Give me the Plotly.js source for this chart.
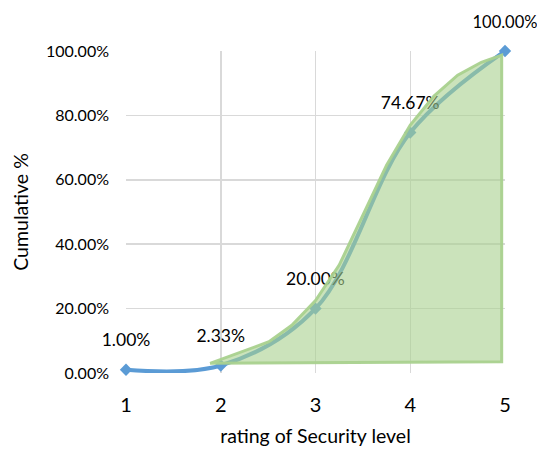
<!DOCTYPE html>
<html>
<head>
<meta charset="utf-8">
<script src="https://cdn.plot.ly/plotly-3.0.1.min.js"></script>
<style>
  html, body { margin: 0; padding: 0; background: #fff; }
  #chart { width: 537px; height: 450px; }
</style>
</head>
<body>
<div id="chart"></div>
<script>
// Security level ratings and their cumulative share
const ratings = [1, 2, 3, 4, 5];
const cumulative = [0.01, 0.0233, 0.20, 0.7467, 1.00];

// Outline of the shaded region drawn over the curve
const regionX = [1.887, 2.509, 2.75, 3.0, 3.25, 3.5, 3.75, 4.0, 4.25, 4.5, 4.75, 4.965, 4.965, 1.887];
const regionY = [0.030, 0.097, 0.148, 0.225, 0.335, 0.49, 0.645, 0.77, 0.86, 0.925, 0.965, 0.987, 0.035, 0.030];

const yTicks = [0, 0.2, 0.4, 0.6, 0.8, 1.0];
const xTicks = [1, 2, 3, 4, 5];

const FONT = 'Lato, "Open Sans", sans-serif';

const curve = {
  x: ratings, y: cumulative,
  type: 'scatter', mode: 'lines+markers',
  line: { color: '#5b9bd5', width: 4, shape: 'spline', smoothing: 1 },
  marker: { symbol: 'diamond', size: 9.5, color: '#5b9bd5' },
  cliponaxis: false, hoverinfo: 'skip', showlegend: false
};

// Value labels sit above each point (invisible markers set the gap);
// the last one is a touch smaller so it stays inside the page edge
const labels = {
  x: ratings, y: cumulative,
  type: 'scatter', mode: 'markers+text',
  marker: { size: 29, color: 'rgba(0,0,0,0)' },
  texttemplate: '%{y:.2%}', textposition: 'top center',
  textfont: { family: FONT, size: [17.5, 17.5, 17.5, 17.5, 16.5], color: '#000' },
  cliponaxis: false, hoverinfo: 'skip', showlegend: false
};

const region = {
  x: regionX, y: regionY,
  type: 'scatter', mode: 'lines', fill: 'toself',
  fillcolor: 'rgba(169,209,142,0.6)',
  line: { color: 'rgba(169,209,142,0.95)', width: 3 },
  cliponaxis: false, hoverinfo: 'skip', showlegend: false
};

const layout = {
  width: 537, height: 450,
  margin: { l: 126, r: 32, t: 51, b: 77 },
  paper_bgcolor: '#fff', plot_bgcolor: '#fff',
  font: { family: FONT, color: '#000' },
  xaxis: {
    range: [1, 5], tickvals: xTicks, ticktext: xTicks.map(String),
    showgrid: true, gridcolor: '#d9d9d9', gridwidth: 1.5,
    zeroline: false, showline: false, ticks: '',
    ticklabelstandoff: 18,
    tickfont: { family: FONT, size: 20, color: '#000' },
    title: { text: 'rating of Security level', font: { family: FONT, size: 19.5, color: '#000' }, standoff: 14 },
    automargin: false
  },
  yaxis: {
    range: [0, 1], tickvals: yTicks, tickformat: '.2%',
    showgrid: true, gridcolor: '#d9d9d9', gridwidth: 1.5,
    zeroline: false, showline: false, ticks: '',
    ticklabelstandoff: 16,
    tickfont: { family: FONT, size: 16, color: '#000' },
    title: { text: 'Cumulative %', font: { family: FONT, size: 19.5, color: '#000' }, standoff: 12 },
    automargin: false
  }
};

Plotly.newPlot('chart', [curve, labels, region], layout, { staticPlot: true, displayModeBar: false });
</script>
</body>
</html>
